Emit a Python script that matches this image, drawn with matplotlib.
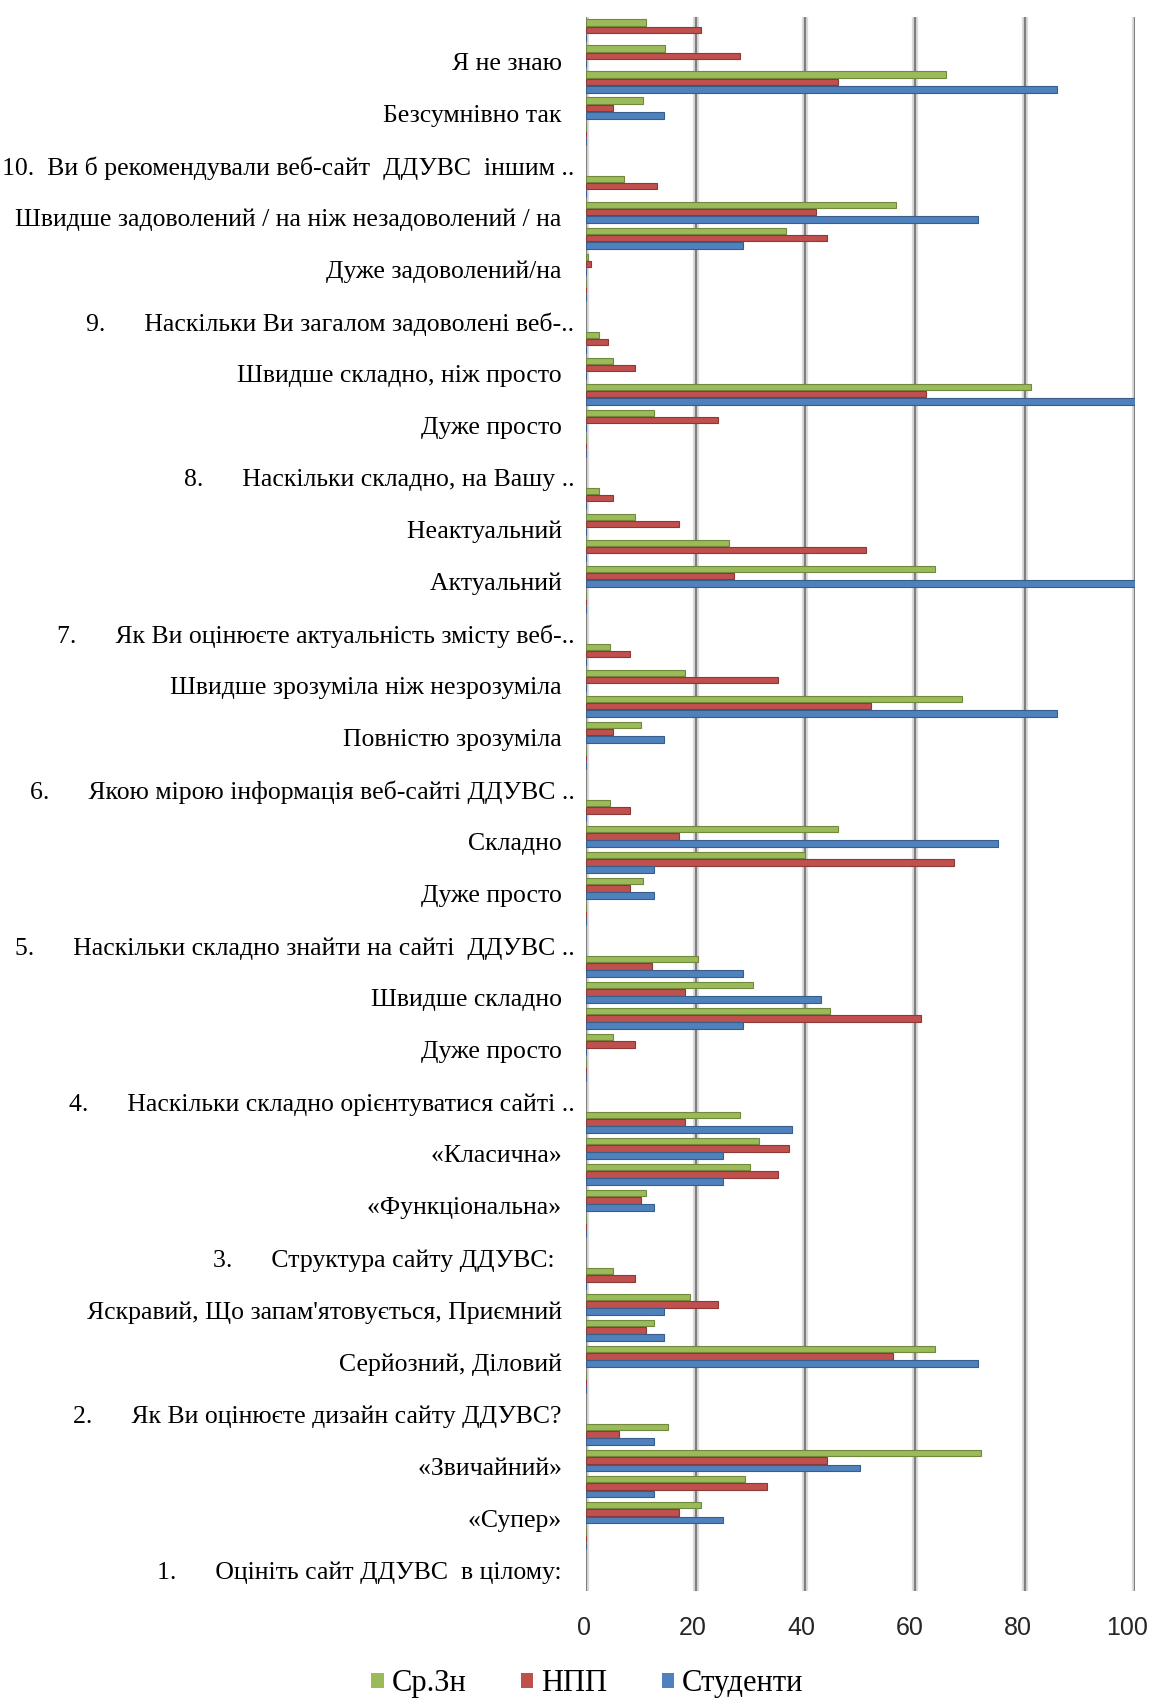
import numpy as np
import matplotlib.pyplot as plt
from matplotlib.patches import Patch
from matplotlib.transforms import ScaledTranslation

# категорії знизу вгору; підписано лише кожну другу
labels = [
    "1.      Оцініть сайт ДДУВС  в цілому:  ", "", "«Супер»  ", "", "«Звичайний»  ", "",
    "2.      Як Ви оцінюєте дизайн сайту ДДУВС?  ", "", "Серйозний, Діловий  ", "",
    "Яскравий, Що запам'ятовується, Приємний  ", "",
    "3.      Структура сайту ДДУВС:   ", "", "«Функціональна»  ", "", "«Класична»  ", "",
    "4.      Наскільки складно орієнтуватися сайті ..", "", "Дуже просто  ", "",
    "Швидше складно  ", "",
    "5.      Наскільки складно знайти на сайті  ДДУВС ..", "", "Дуже просто  ", "",
    "Складно  ", "",
    "6.      Якою мірою інформація веб-сайті ДДУВС ..", "", "Повністю зрозуміла  ", "",
    "Швидше зрозуміла ніж незрозуміла  ", "",
    "7.      Як Ви оцінюєте актуальність змісту веб-..", "", "Актуальний  ", "",
    "Неактуальний  ", "",
    "8.      Наскільки складно, на Вашу ..", "", "Дуже просто  ", "",
    "Швидше складно, ніж просто  ", "",
    "9.      Наскільки Ви загалом задоволені веб-..", "", "Дуже задоволений/на  ", "",
    "Швидше задоволений / на ніж незадоволений / на  ", "",
    "10.  Ви б рекомендували веб-сайт  ДДУВС  іншим ..", "", "Безсумнівно так  ", "",
    "Я не знаю  ", "",
]

nan = np.nan
avg = [nan, 0, 21, 29, 72, 15,
       nan, 0, 63.5, 12.5, 19, 5,
       nan, 0, 11, 30, 31.5, 28,
       nan, 0, 5, 44.5, 30.5, 20.5,
       nan, 0, 10.5, 40, 46, 4.5,
       nan, 0, 10, 68.5, 18, 4.5,
       nan, 0, 63.5, 26, 9, 2.5,
       nan, 0, 12.5, 81, 5, 2.5,
       nan, 0, 0.5, 36.5, 56.5, 7,
       nan, 0, 10.5, 65.5, 14.5, 11]
staff = [nan, 0, 17, 33, 44, 6,
         nan, 0, 56, 11, 24, 9,
         nan, 0, 10, 35, 37, 18,
         nan, 0, 9, 61, 18, 12,
         nan, 0, 8, 67, 17, 8,
         nan, 0, 5, 52, 35, 8,
         nan, 0, 27, 51, 17, 5,
         nan, 0, 24, 62, 9, 4,
         nan, 0, 1, 44, 42, 13,
         nan, 0, 5, 46, 28, 21]
students = [nan, 0, 25, 12.5, 50, 12.5,
            nan, 0, 71.4, 14.3, 14.3, 0,
            nan, 0, 12.5, 25, 25, 37.5,
            nan, 0, 0, 28.6, 42.9, 28.6,
            nan, 0, 12.5, 12.5, 75, 0,
            nan, 0, 14.3, 85.7, 0, 0,
            nan, 0, 100, 0, 0, 0,
            nan, 0, 0, 100, 0, 0,
            nan, 0, 0, 28.6, 71.4, 0,
            nan, 0, 14.3, 85.7, 0, 0]

series = [("Ср.Зн", avg, "#9bbb59", "#71893f", 0.28),
          ("НПП", staff, "#c0504d", "#8c3836", 0.0),
          ("Студенти", students, "#4f81bd", "#385d8a", -0.28)]

fig = plt.figure(figsize=(11.56, 17), dpi=100)
ax = fig.add_axes([0.5066, 0.0644, 0.4754, 0.9256])

y = np.arange(len(labels))
for name, vals, col, edge, off in series:
    ax.barh(y + off, vals, height=0.25, color=col, edgecolor=edge,
            linewidth=0.8, zorder=3)

ax.set_xlim(0, 100)
ax.set_ylim(-1.0, len(labels) - 0.5)
xt = np.arange(0, 101, 20)
ax.set_xticks(xt)
for xv in xt:
    ax.axvline(xv, color="#dcdcdc", lw=4.5, zorder=1)
    ax.axvline(xv, color="#7f7f7f", lw=1.6, zorder=2)
for s in ax.spines.values():
    s.set_visible(False)

ax.set_yticks(y)
ax.set_yticklabels(labels, family="Liberation Serif", fontsize=18.5, color="#000000")
ax.tick_params(axis="y", length=0, pad=8)
ax.tick_params(axis="x", length=0, pad=18, labelsize=18, labelcolor="#262626")

# підписи осі X трохи зсунуті ліворуч, як у перспективі
for xv, lbl in zip(xt, ax.get_xticklabels()):
    lbl.set_family("Liberation Sans")
    dx = -(1.5 + 0.07 * xv) / 100
    lbl.set_transform(lbl.get_transform() + ScaledTranslation(dx, 0, fig.dpi_scale_trans))
shift = ScaledTranslation(0, -4 / 72, fig.dpi_scale_trans)
for lbl in ax.get_yticklabels():
    lbl.set_transform(lbl.get_transform() + shift)

handles = [Patch(facecolor=c, edgecolor="none") for _, _, c, _, _ in series]
fig.legend(handles, [s[0] for s in series], loc="center", bbox_to_anchor=(0.508, 0.0095),
           ncol=3, frameon=False, handlelength=0.4, handleheight=0.4,
           handletextpad=0.25, columnspacing=1.8,
           prop={"family": "Liberation Serif", "size": 22})

fig.savefig("out.png", dpi=100, facecolor="white")
